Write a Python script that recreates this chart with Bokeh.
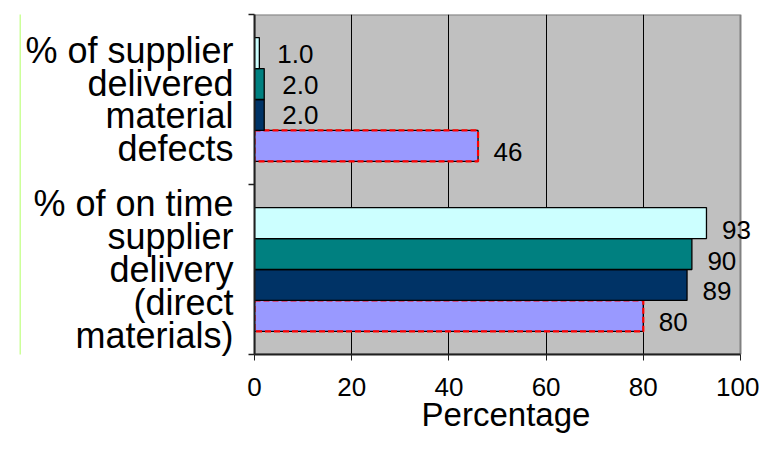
from bokeh.plotting import figure
from bokeh.models import ColumnDataSource, Range1d, FixedTicker, LabelSet
from bokeh.layouts import row
from bokeh.core.properties import value
from bokeh.embed import file_html
from bokeh.resources import INLINE

# ---- data (categories listed bottom to top, series listed bottom to top within a group)
categories = [
    "% of on time\nsupplier\ndelivery\n(direct\nmaterials)",
    "% of supplier\ndelivered\nmaterial\ndefects",
]
series_1 = [80, 46]     # lavender, red dashed outline
series_2 = [89, 2.0]    # navy
series_3 = [90, 2.0]    # teal
series_4 = [93, 1.0]    # light cyan
x_ticks = [0, 20, 40, 60, 80, 100]
x_title = "Percentage"

series = [series_1, series_2, series_3, series_4]
colors = ["#9999FF", "#003366", "#008080", "#CCFFFF"]

FONT = "Liberation Sans"
BAR_H = 0.182
N = len(categories)

# ---- green decorative strip on the left
strip = figure(width=21, height=440, x_axis_type=None, y_axis_type=None,
               toolbar_location=None, output_backend="svg",
               min_border_left=19, min_border_right=0, min_border_top=0,
               min_border_bottom=78)
strip.background_fill_color = "#CCFF99"
strip.border_fill_color = "white"
strip.outline_line_color = None
strip.grid.visible = False

# ---- main chart (frame extends a little past 100 so value labels are not clipped)
p = figure(width=738, height=440, x_range=Range1d(0, 103.5), y_range=Range1d(0, N),
           toolbar_location=None, output_backend="svg",
           min_border_left=233, min_border_right=2, min_border_top=14,
           min_border_bottom=86)
p.background_fill_color = "white"
p.border_fill_color = "white"
p.outline_line_color = None

# grey plot area limited to the value axis range
p.quad(left=x_ticks[0], right=x_ticks[-1], bottom=0, top=N,
       fill_color="#C0C0C0", line_color="#808080", line_width=2, level="image")

for i, vals in enumerate(series):
    ys = [c + 0.5 + (i - 1.5) * BAR_H for c in range(N)]
    src = ColumnDataSource(dict(
        y=ys, right=vals,
        label=[f"{v:.1f}" if v < 10 else f"{v:.0f}" for v in vals],
        dy=[-0.5 if v < 10 else -6.5 for v in vals],
        dx=[18 if v < 10 else 15.5 for v in vals],
    ))
    p.hbar(y="y", left=0, right="right", height=BAR_H, source=src,
           fill_color=colors[i], line_color="black", line_width=1.3)
    if i == 0:
        p.hbar(y="y", left=0, right="right", height=BAR_H, source=src,
               fill_color=None, line_color="#FF0000", line_width=2.2,
               line_dash="6 3")
    p.add_layout(LabelSet(x="right", y="y", text="label", source=src,
                          x_offset="dx", y_offset="dy",
                          text_font=value(FONT), text_font_size="26px",
                          text_color="black", text_align="left",
                          text_baseline="middle"))

# grid
p.ygrid.visible = False
p.xgrid.ticker = FixedTicker(ticks=x_ticks[1:-1])
p.xgrid.grid_line_color = "black"
p.xgrid.grid_line_width = 1

# x axis
p.xaxis.ticker = FixedTicker(ticks=x_ticks)
p.xaxis.bounds = (x_ticks[0], x_ticks[-1])
p.xaxis.axis_label = x_title
p.xaxis.axis_label_text_font = FONT
p.xaxis.axis_label_text_font_size = "33px"
p.xaxis.axis_label_text_font_style = "normal"
p.xaxis.axis_label_text_color = "black"
p.xaxis.axis_label_standoff = -3
p.xaxis.major_label_text_font = FONT
p.xaxis.major_label_text_font_size = "26px"
p.xaxis.major_label_text_color = "black"
p.xaxis.major_label_standoff = 17
p.xaxis.major_tick_out = 6
p.xaxis.major_tick_in = 0
p.xaxis.minor_tick_line_color = None
p.xaxis.axis_line_color = "#202020"
p.xaxis.axis_line_width = 2
p.xaxis.major_tick_line_color = "#202020"

# y axis: category names at group centres, tick marks at group boundaries
p.yaxis.ticker = FixedTicker(ticks=[c + 0.5 for c in range(N)],
                             minor_ticks=list(range(N + 1)))
p.yaxis.major_label_overrides = {c + 0.5: name for c, name in enumerate(categories)}
p.yaxis.major_label_text_font = FONT
p.yaxis.major_label_text_font_size = "36px"
p.yaxis.major_label_text_color = "black"
p.yaxis.major_label_text_line_height = 0.8
p.yaxis.major_label_standoff = 15
p.yaxis.major_tick_line_color = None
p.yaxis.major_tick_out = 0
p.yaxis.major_tick_in = 0
p.yaxis.minor_tick_out = 6
p.yaxis.minor_tick_in = 0
p.yaxis.minor_tick_line_color = "#202020"
p.yaxis.minor_tick_line_width = 1.5
p.yaxis.axis_line_color = "#202020"
p.yaxis.axis_line_width = 2

layout = row(strip, p)
open("out.html", "w").write(file_html(layout, INLINE))
